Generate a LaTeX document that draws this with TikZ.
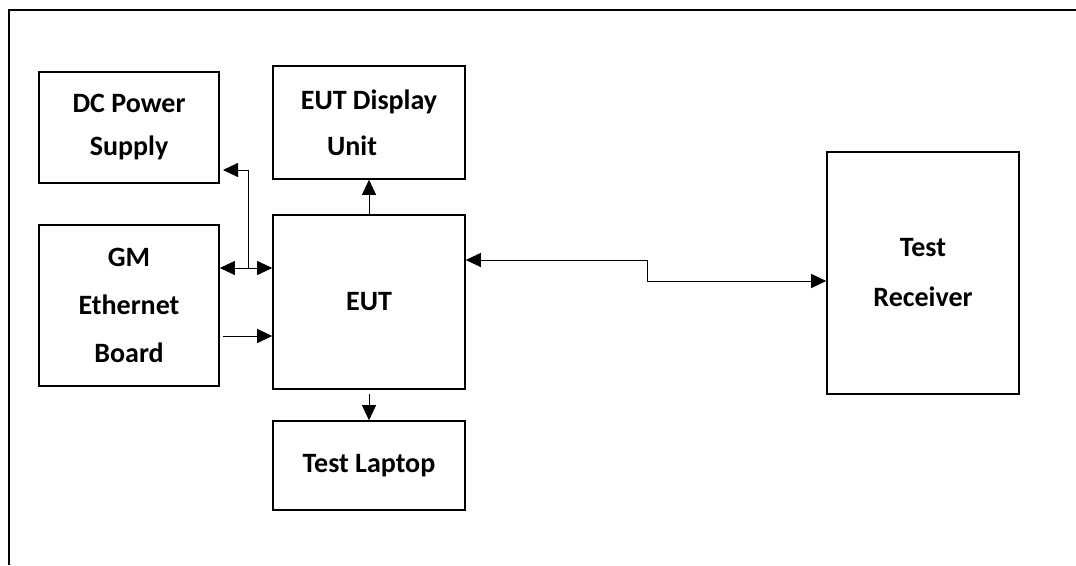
\documentclass[tikz,border=0pt]{standalone}
\usepackage{fontspec}
\setmainfont{Carlito}
\usetikzlibrary{arrows.meta}
\tikzset{
  blk/.style={draw, line width=1.6pt, minimum width=#1, inner sep=0pt, align=center,
    font=\bfseries\fontsize{28}{48}\selectfont},
  conn/.style={line width=0.9pt},
  arr/.style={conn, -{Triangle[length=15pt,width=14pt]}},
  darr/.style={conn, {Triangle[length=15pt,width=14pt]}-{Triangle[length=15pt,width=14pt]}},
}
\begin{document}
\begin{tikzpicture}[x=1pt,y=-1pt]
\useasboundingbox (0,0) rectangle (1076,565);
% frame (only top and left edges visible)
\draw[line width=1.8pt] (1076,10) -- (9,10) -- (9,565);
% blocks
\node[blk=180pt, minimum height=111pt, font=\bfseries\fontsize{28}{43}\selectfont] (dc)  at (129,127.5) {DC Power\\Supply};
\node[blk=192pt, minimum height=113pt, font=\bfseries\fontsize{28}{46}\selectfont] (disp) at (369,122.5) {EUT Display\\Unit\rule{34pt}{0pt}};
\node[blk=180pt, minimum height=161pt] (gm)  at (129,305.5) {GM\\Ethernet\\Board};
\node[blk=192pt, minimum height=174pt] (eut) at (369,302) {EUT};
\node[blk=192pt, minimum height=242pt, font=\bfseries\fontsize{28}{50}\selectfont] (rx)  at (923,273) {Test\\Receiver};
\node[blk=192pt, minimum height=89pt]  (lap) at (369,465.5) {Test Laptop};
% connectors
\draw[arr] (eut.north) -- (disp.south);
\draw[arr] ([yshift=-4pt]eut.south) -- (lap.north);
\draw[darr] (gm.east |- 0,268) -- (eut.west |- 0,268);
\coordinate (j) at (248,268);
\coordinate (dctip) at (223,170);
\draw[arr] (j) |- (dctip);
\coordinate (gmout) at (223,336);
\draw[arr] (gmout) -- (eut.west |- gmout);
\coordinate (b1) at (647,260);
\coordinate (b2) at (647,281);
\draw[darr] (eut.east |- b1) -- (b1) -- (b2) -- (rx.west |- b2);
\end{tikzpicture}
\end{document}
